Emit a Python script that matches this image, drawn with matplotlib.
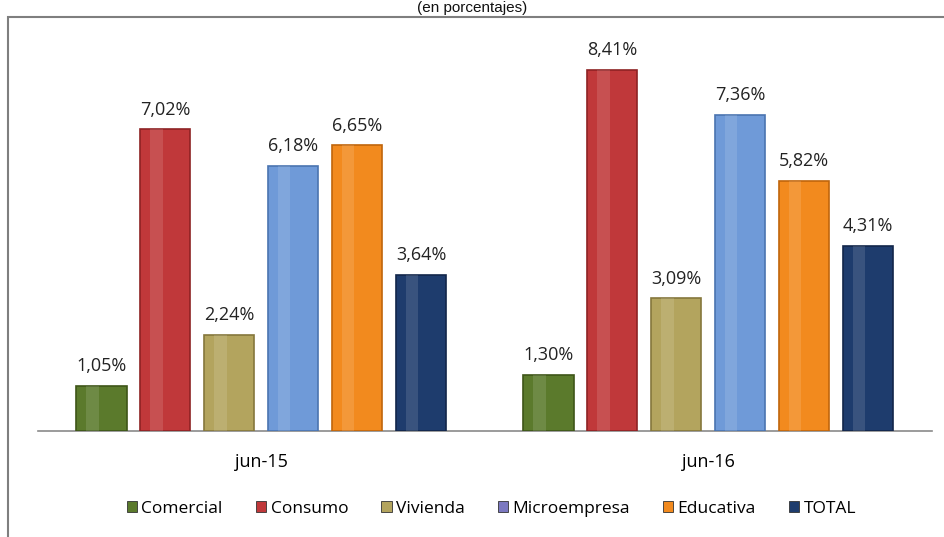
import matplotlib
matplotlib.use("Agg")
import matplotlib.pyplot as plt
from matplotlib.patches import Rectangle
import numpy as np

categories = ["jun-15", "jun-16"]
series = ["Comercial", "Consumo", "Vivienda", "Microempresa", "Educativa", "TOTAL"]
comercial = [1.05, 1.30]
consumo = [7.02, 8.41]
vivienda = [2.24, 3.09]
microempresa = [6.18, 7.36]
educativa = [6.65, 5.82]
total = [3.64, 4.31]
values = [comercial, consumo, vivienda, microempresa, educativa, total]

colors = ["#5b7a2c", "#c0383a", "#b3a45e", "#6f9ad8", "#f28a1e", "#1e3c6d"]
edges = ["#3e5518", "#8e2224", "#85773c", "#4a74b0", "#c0650b", "#12264a"]
legend_colors = ["#5b7a2c", "#c0383a", "#b3a45e", "#7b78c0", "#f28a1e", "#1e3c6d"]

fig = plt.figure(figsize=(9.45, 5.37), dpi=100)
ax = fig.add_axes([0.040, 0.1974, 0.946, 0.728])

x = np.arange(len(categories))
bw = 0.112
step = 0.143
font = ["Open Sans", "DejaVu Sans"]
for i, (s, vals) in enumerate(zip(series, values)):
    off = (i - 2.5) * step
    ax.bar(x + off, vals, width=bw, color=colors[i], edgecolor=edges[i],
           linewidth=1.2, label=s, zorder=3)
    # subtle highlight strip for glossy look
    ax.bar(x + off - bw * 0.18, vals, width=bw * 0.25, color="white", alpha=0.12,
           linewidth=0, zorder=4)
    for xi, v in zip(x + off, vals):
        ax.text(xi, v + 0.25, f"{v:.2f}%".replace(".", ","), ha="center", va="bottom",
                fontsize=13, family=font, color="#222222")

ax.set_xlim(-0.5, 1.5)
ax.set_ylim(0, 9.1)
ax.set_xticks(x)
ax.set_xticklabels(categories, fontsize=13, family=font)
ax.tick_params(axis="x", length=0, pad=16)
ax.set_yticks([])
for sp in ["top", "right", "left"]:
    ax.spines[sp].set_visible(False)
ax.spines["bottom"].set_color("#8a8a8a")
ax.spines["bottom"].set_linewidth(1.2)
ax.set_facecolor("none")

handles = [Rectangle((0, 0), 1, 1, facecolor=c, edgecolor="#333333", linewidth=0.6)
           for c in legend_colors]
fig.legend(handles, series, loc="center", bbox_to_anchor=(0.52, 1 - 509 / 537),
           ncol=6, frameon=False, prop={"family": font, "size": 12.5},
           handlelength=0.6, handleheight=0.6, handletextpad=0.25, columnspacing=1.9)

# outer border box
border = Rectangle((8 / 945, -0.01), 1.0, 1 - 17 / 537 + 0.01, transform=fig.transFigure,
                   fill=False, edgecolor="#7f7f7f", linewidth=1.5)
fig.add_artist(border)

fig.text(0.5, 1 - 1 / 537, "(en porcentajes)", ha="center", va="top",
         fontsize=11, family=["Liberation Sans", "DejaVu Sans"], color="#111111")

fig.savefig("out.png", dpi=100)
